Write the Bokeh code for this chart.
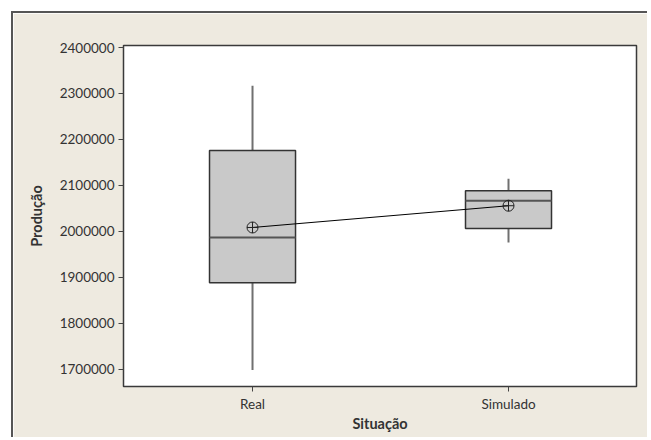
from bokeh.plotting import figure
from bokeh.models import FixedTicker, Range1d, ColumnDataSource
from bokeh.transform import dodge
from bokeh.embed import file_html
from bokeh.resources import INLINE

situacao = ["Real", "Simulado"]
pos = [1, 2]
lower = [1699000, 1976000]
q1 = [1888500, 2006500]
median = [1987000, 2066700]
q3 = [2176000, 2088500]
upper = [2317000, 2114600]
mean = [2008700, 2056000]
y_ticks = [1700000, 1800000, 1900000, 2000000, 2100000, 2200000, 2300000, 2400000]

BEIGE = "#eeeae0"
FONT = "Lato"
BOX_W = 0.336

src = ColumnDataSource(dict(x=pos, lower=lower, q1=q1, median=median, q3=q3,
                            upper=upper, mean=mean))

p = figure(width=636, height=426, output_backend="svg", toolbar_location=None,
           x_range=Range1d(0.496, 2.5), y_range=Range1d(1663000, 2404350),
           min_border_left=110, min_border_top=32, min_border_right=13, min_border_bottom=53)
p.margin = (11, 0, 0, 11)
p.styles = {"border-left": "2px solid #555", "border-top": "2px solid #555"}
p.background_fill_color = "white"
p.border_fill_color = BEIGE
p.outline_line_color = "#3a3a3a"
p.outline_line_width = 1.5
p.grid.visible = False

# whiskers
p.segment(x0="x", y0="q3", x1="x", y1="upper", source=src, line_color="#707070", line_width=2)
p.segment(x0="x", y0="lower", x1="x", y1="q1", source=src, line_color="#707070", line_width=2)
# boxes
p.vbar(x="x", width=BOX_W, bottom="q1", top="q3", source=src,
       fill_color="#c9c9c9", line_color="#333333", line_width=1.5)
# medians
p.segment(x0=dodge("x", -BOX_W / 2), y0="median", x1=dodge("x", BOX_W / 2), y1="median",
          source=src, line_color="#555555", line_width=2)
# mean connect line
p.line(x="x", y="mean", source=src, line_color="black", line_width=1)
p.scatter(x="x", y="mean", source=src, marker="circle_cross", size=11,
          fill_color=None, line_color="#222222", line_width=1)

p.xaxis.ticker = FixedTicker(ticks=pos)
p.xaxis.major_label_overrides = {pos[i]: situacao[i] for i in range(len(pos))}
p.yaxis.ticker = FixedTicker(ticks=y_ticks)
p.yaxis.formatter.use_scientific = False
p.xaxis.minor_tick_line_color = None
p.yaxis.minor_tick_line_color = None

for ax in (p.xaxis[0], p.yaxis[0]):
    ax.axis_line_color = None
    ax.major_tick_line_color = "#444444"
    ax.major_tick_line_width = 1
    ax.major_tick_out = 5
    ax.major_tick_in = 0
    ax.major_label_text_font = FONT
    ax.major_label_text_font_size = "13.5px"
    ax.major_label_text_color = "#333333"
    ax.axis_label_text_font = FONT
    ax.axis_label_text_font_size = "14.5px"
    ax.axis_label_text_font_style = "bold"
    ax.axis_label_text_color = "#333333"

p.xaxis.axis_label = "Situação"
p.yaxis.axis_label = "Produção"
p.xaxis.major_label_standoff = 4
p.xaxis.axis_label_standoff = 0
p.yaxis.major_label_standoff = 4
p.yaxis.axis_label_standoff = 12

open("out.html", "w").write(file_html(p, INLINE))
